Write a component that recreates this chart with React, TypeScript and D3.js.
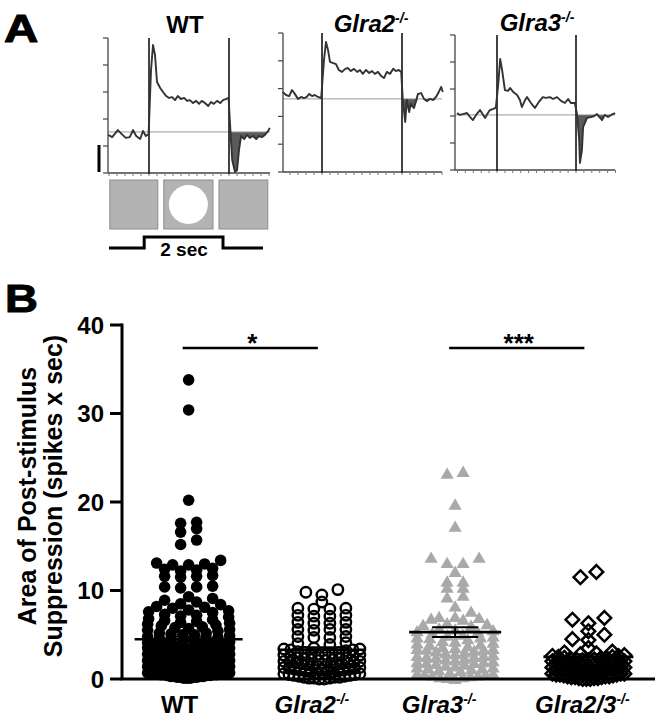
import React from "react";
import * as d3 from "d3";

// ---------------- Panel B data ----------------
const GROUPS = ["WT", "Glra2", "Glra3", "Glra2/3"];
const GROUP_SUP = ["", "-/-", "-/-", "-/-"];
const GROUP_ITALIC = [false, true, true, true];
const GROUP_MARKER = ["dot", "circle", "triangle", "diamond"];

const WT_VALUES = [
  33.8, 30.4, 20.2, 17.7, 17.6, 17.0, 16.6, 15.7, 15.2,
  13.4, 13.1, 13.0, 12.9, 12.9, 12.5, 12.4, 12.3, 12.2, 11.7, 11.6, 11.6, 11.5, 10.5, 10.4, 10.4, 10.3,
  9.3, 9.1, 8.9, 8.7, 8.5, 8.4, 8.2, 8.1,
  8.0, 7.8, 7.7, 7.6, 7.5, 7.3, 7.2, 7.1,
  7.0, 6.8, 6.7, 6.6, 6.5, 6.4, 6.3, 6.2, 6.1,
  6.0, 5.9, 5.8, 5.7, 5.6, 5.5, 5.4, 5.2, 5.2, 5.1,
  5.0, 5.0, 4.9, 4.8, 4.7, 4.6, 4.5, 4.5, 4.4, 4.3, 4.2, 4.1,
  4.0, 4.0, 3.9, 3.8, 3.8, 3.7, 3.7, 3.6, 3.5, 3.5, 3.4, 3.4, 3.3, 3.2, 3.2, 3.1,
  3.0, 3.0, 2.9, 2.9, 2.8, 2.8, 2.7, 2.7, 2.7, 2.6, 2.6, 2.5, 2.5, 2.4, 2.4, 2.4, 2.3, 2.3, 2.2, 2.2, 2.1, 2.1,
  2.0, 2.0, 1.9, 1.9, 1.9, 1.8, 1.8, 1.8, 1.7, 1.7, 1.7, 1.6, 1.6, 1.6, 1.5, 1.5, 1.5, 1.4, 1.4, 1.4,
  1.3, 1.3, 1.3, 1.2, 1.2, 1.2, 1.1, 1.1,
  1.0, 1.0, 0.9, 0.9, 0.9, 0.9, 0.8, 0.8, 0.8, 0.7, 0.7, 0.7, 0.7, 0.6, 0.6, 0.6, 0.6,
  0.5, 0.5, 0.5, 0.5, 0.4, 0.4, 0.4, 0.3, 0.3, 0.3, 0.3, 0.2, 0.2, 0.2, 0.2, 0.1, 0.1, 0.1,
];

const GLRA2_VALUES = [
  10.1, 9.8, 9.5, 8.7,
  7.9, 8.0, 7.9, 8.0,
  7.1, 7.2, 7.1, 7.2,
  6.4, 6.3, 6.4, 6.3,
  5.6, 5.5, 5.6, 5.6,
  4.7, 4.8, 4.7, 4.8,
  4.1, 4.0, 3.9,
  3.2, 3.3, 3.3, 3.4, 3.4, 3.5, 3.1,
  2.6, 2.7, 2.8, 2.8, 2.9, 3.0, 2.5, 2.7, 2.9, 3.0,
  1.9, 2.0, 2.1, 2.2, 2.2, 2.3, 2.4, 1.8, 2.0, 2.1, 2.3, 2.4,
  1.1, 1.2, 1.3, 1.4, 1.5, 1.6, 1.7, 1.2, 1.4, 1.1, 1.3, 1.5, 1.6, 1.7, 1.8, 1.9,
  0.4, 0.5, 0.6, 0.7, 0.8, 0.9, 1.0, 0.6, 0.8, 0.4, 0.5, 0.7, 0.9, 1.0, 0.8,
  0.0, 0.1, 0.2, 0.3, 0.1, 0.2, 0.0, 0.1, 0.3, 0.2,
];

const GLRA3_VALUES = [
  23.4, 23.2, 19.7, 17.2, 13.7, 13.7, 13.1, 13.1, 12.1, 11.0, 11.0, 10.3, 10.3, 9.4, 9.2,
  8.2, 7.6,
  7.0, 7.0, 6.9, 6.8, 6.7,
  6.2, 6.1, 6.0, 6.3,
  5.5, 5.4, 5.6, 5.3, 5.7, 5.0, 5.2,
  4.8, 4.7, 4.6, 4.9, 4.7, 4.3, 4.5,
  4.0, 4.1, 3.9, 4.2, 3.8, 3.7, 3.6,
  3.3, 3.4, 3.2, 3.1, 3.5, 3.3, 3.0, 3.4,
  2.6, 2.5, 2.7, 2.4, 2.8, 2.6, 2.9, 2.5, 2.2, 2.3,
  1.9, 1.8, 2.0, 1.7, 2.1, 1.9, 1.5, 1.8, 1.6,
  1.2, 1.1, 1.3, 1.0, 1.4, 1.2, 0.9, 1.3,
  0.5, 0.4, 0.6, 0.3, 0.7, 0.5, 0.2, 0.6, 0.4,
  0.1, 0.0, 0.2,
];

const GLRA23_VALUES = [
  12.1, 11.5,
  6.9, 6.7, 6.3,
  5.4, 5.0,
  4.5, 4.4,
  3.5,
  3.0, 2.9, 3.1,
  2.4, 2.5, 2.6, 2.7, 2.3, 2.8, 2.5, 2.2, 2.3, 2.4, 2.6,
  1.7, 1.8, 1.9, 2.0, 2.1, 1.6, 1.9, 2.2, 1.6, 1.7, 1.8, 2.0, 2.1, 1.9, 2.0,
  1.0, 1.1, 1.2, 1.3, 1.4, 1.5, 1.2, 1.3, 1.1, 1.0, 1.1, 1.2, 1.4, 1.5, 1.3, 1.5,
  0.4, 0.5, 0.6, 0.7, 0.8, 0.9, 0.5, 0.7, 0.6, 0.4, 0.5, 0.6, 0.8, 0.9, 0.7, 0.9,
  0.0, 0.1, 0.2, 0.3, 0.1, 0.2, 0.0, 0.3, 0.1, 0.2, 0.3, 0.0,
];

const GROUP_VALUES = [WT_VALUES, GLRA2_VALUES, GLRA3_VALUES, GLRA23_VALUES];
const MEANS = [4.5, 3.3, 5.3, 2.5];
const SEMS = [0.3, 0.3, 0.55, 0.3];
const Y_TICKS = [0, 10, 20, 30, 40];
const SIG_PAIRS = [
  [0, 1],
  [2, 3],
];
const SIG_LABELS = ["*", "***"];
const SIG_LEVEL = 37.4;

// ---------------- Panel A data ----------------
const TRACE_TITLES = ["WT", "Glra2", "Glra3"];
const TRACE_SUP = ["", "-/-", "-/-"];
const TRACE_ITALIC = [false, true, true];

const WT_TRACE: [number, number][] = [
  [-1.02, 1.41], [-0.92, 1.33], [-0.78, 1.59], [-0.68, 1.44], [-0.58, 1.3], [-0.48, 1.33],
  [-0.4, 1.59], [-0.32, 1.37], [-0.22, 1.26], [-0.15, 1.56], [-0.08, 1.37], [-0.01, 1.44],
  [0.05, 3.8], [0.1, 4.74], [0.15, 4.37], [0.2, 3.37], [0.28, 3.15], [0.35, 3.0], [0.43, 2.85],
  [0.5, 2.78], [0.58, 2.81], [0.65, 2.7], [0.72, 2.85], [0.8, 2.74], [0.88, 2.78], [0.95, 2.67],
  [1.02, 2.7], [1.1, 2.59], [1.18, 2.67], [1.25, 2.56], [1.32, 2.67], [1.4, 2.59], [1.48, 2.48],
  [1.55, 2.63], [1.62, 2.56], [1.7, 2.67], [1.78, 2.59], [1.85, 2.7], [1.92, 2.74], [1.99, 2.78],
  [2.02, 1.96], [2.08, 0.48], [2.15, 0.04], [2.2, 0.1], [2.25, 0.85], [2.3, 1.37], [2.38, 1.26],
  [2.45, 1.41], [2.52, 1.3], [2.6, 1.37], [2.68, 1.26], [2.75, 1.37], [2.82, 1.33], [2.9, 1.41],
  [2.98, 1.56], [3.02, 1.67],
];

const GLRA2_TRACE: [number, number][] = [
  [-0.98, 2.88], [-0.9, 2.77], [-0.82, 2.73], [-0.75, 2.95], [-0.68, 2.81], [-0.6, 2.63],
  [-0.52, 2.7], [-0.45, 2.66], [-0.38, 2.7], [-0.32, 2.81], [-0.25, 2.73], [-0.18, 2.77],
  [-0.1, 2.7], [-0.02, 2.66],
  [0.05, 4.03], [0.1, 4.68], [0.15, 4.39], [0.2, 3.96], [0.28, 3.92], [0.35, 3.88], [0.42, 3.67],
  [0.5, 3.6], [0.58, 3.71], [0.65, 3.74], [0.72, 3.63], [0.8, 3.71], [0.88, 3.6], [0.95, 3.67],
  [1.02, 3.53], [1.1, 3.67], [1.18, 3.56], [1.25, 3.63], [1.32, 3.53], [1.4, 3.6], [1.48, 3.45],
  [1.55, 3.38], [1.62, 3.6], [1.7, 3.53], [1.78, 3.71], [1.85, 3.63], [1.92, 3.67], [1.98, 3.6],
  [2.02, 2.59], [2.08, 1.8], [2.12, 2.59], [2.18, 2.16], [2.22, 2.45], [2.3, 2.3], [2.4, 2.81],
  [2.48, 2.84], [2.55, 2.63], [2.62, 2.55], [2.7, 2.63], [2.78, 2.59], [2.85, 2.7], [2.92, 2.88],
  [2.98, 3.06], [3.02, 2.88],
];

const GLRA3_TRACE: [number, number][] = [
  [-1.01, 2.11], [-0.94, 2.04], [-0.86, 2.07], [-0.76, 2.11], [-0.68, 1.96], [-0.61, 1.85],
  [-0.53, 2.04], [-0.43, 2.22], [-0.35, 2.04], [-0.3, 1.93], [-0.23, 2.11], [-0.18, 2.22],
  [-0.1, 2.26], [-0.03, 2.3],
  [0.03, 3.15], [0.08, 4.11], [0.13, 3.7], [0.2, 2.96], [0.28, 2.93], [0.33, 3.04], [0.41, 2.89],
  [0.51, 2.78], [0.58, 2.59], [0.63, 2.33], [0.71, 2.59], [0.76, 2.7], [0.86, 2.48], [0.96, 2.3],
  [1.06, 2.52], [1.16, 2.7], [1.24, 2.67], [1.34, 2.7], [1.42, 2.63], [1.52, 2.7], [1.62, 2.56],
  [1.72, 2.48], [1.8, 2.63], [1.87, 2.48], [1.97, 2.48],
  [2.03, 2.04], [2.08, 1.11], [2.1, 0.26], [2.15, 0.74], [2.18, 1.59], [2.28, 1.93], [2.38, 1.96],
  [2.46, 2.0], [2.53, 2.07], [2.61, 1.93], [2.66, 1.85], [2.73, 2.04], [2.81, 1.96], [2.89, 2.04],
  [2.99, 2.11],
];

const TRACES = [WT_TRACE, GLRA2_TRACE, GLRA3_TRACE];
const TRACE_BASELINES = [1.52, 2.63, 2.04];
const TRACE_Y_TICKS = [0, 1, 2, 3, 4, 5];
const STIM_TIMES = [0, 2];
const STIM_STEP: [number, number][] = [
  [-1.0, 0],
  [-0.12, 1],
  [1.85, 0],
  [2.85, 0],
];

// ---------------- layout constants ----------------
const FONT = "'Liberation Sans', Arial, Helvetica, sans-serif";
const PANELS = [
  { left: 108, right: 270, top: 38, bottom: 173, s0: 149, s2: 229, titleX: 185, titleY: 33 },
  { left: 283, right: 442, top: 33, bottom: 172, s0: 322, s2: 402, titleX: 371, titleY: 32 },
  { left: 455, right: 615, top: 35, bottom: 170, s0: 497, s2: 576, titleX: 537, titleY: 31 },
];
const MAX_HALF = [41, 38, 38, 36];
const MEAN_HALF = [54, 44, 46, 45];
const LABEL_DX = [-9, -10, -16, -6];

type Pt = { x: number; y: number };

function swarm(values: number[], center: number, ys: (v: number) => number, maxHalf: number, step: number, rowH: number): Pt[] {
  const sorted = [...values].sort((a, b) => a - b);
  const rows: number[][] = [];
  let cur: number[] = [];
  let start = 0;
  for (const v of sorted) {
    const py = ys(v);
    if (cur.length && start - py > rowH) {
      rows.push(cur);
      cur = [];
    }
    if (!cur.length) start = py;
    cur.push(v);
  }
  if (cur.length) rows.push(cur);
  const pts: Pt[] = [];
  for (const row of rows) {
    const n = row.length;
    const s = n > 1 ? Math.min(step, (2 * maxHalf) / (n - 1)) : 0;
    const slots = d3.range(n).map((i) => (i - (n - 1) / 2) * s);
    const order = d3
      .range(n)
      .sort((a, b) => Math.abs(slots[a]) - Math.abs(slots[b]) || slots[a] - slots[b]);
    row.forEach((v, k) => pts.push({ x: center + slots[order[k]], y: ys(v) }));
  }
  return pts;
}

function Marker({ type, x, y }: { type: string; x: number; y: number }) {
  if (type === "dot") return <circle cx={x} cy={y} r={5.8} fill="#000" />;
  if (type === "circle")
    return <circle cx={x} cy={y} r={5.2} fill="none" stroke="#000" strokeWidth={2.4} />;
  if (type === "triangle")
    return (
      <path
        d={`M${x},${y - 6.3}L${x + 6.6},${y + 5}L${x - 6.6},${y + 5}Z`}
        fill="#a9a9a9"
      />
    );
  return (
    <path
      d={`M${x},${y - 6.8}L${x + 6.8},${y}L${x},${y + 6.8}L${x - 6.8},${y}Z`}
      fill="none"
      stroke="#000"
      strokeWidth={2.5}
      strokeLinejoin="miter"
    />
  );
}

function Label({ x, y, text, sup, italic, size, supSize }: any) {
  return (
    <text
      x={x}
      y={y}
      textAnchor="middle"
      fontFamily={FONT}
      fontWeight="bold"
      fontStyle={italic ? "italic" : "normal"}
      fontSize={size}
      fill="#000"
    >
      {text}
      {sup ? (
        <tspan fontSize={supSize} dy={-size * 0.38}>
          {sup}
        </tspan>
      ) : null}
    </text>
  );
}

export default function App() {
  const y = d3.scaleLinear().domain([0, 40]).range([679, 325]);
  const xb = d3.scaleBand<string>().domain(GROUPS).range([122, 655]);
  const cx = (i: number) => (xb(GROUPS[i]) as number) + xb.bandwidth() / 2;

  const swarms = GROUP_VALUES.map((vals, i) => swarm(vals, cx(i), y, MAX_HALF[i], 16, 6));

  return (
    <svg
      width={662}
      height={720}
      style={{ position: "absolute", left: 0, top: 0, background: "#fff" }}
    >
      <rect x={0} y={0} width={662} height={720} fill="#fff" />

      {/* Panel letters */}
      <text x={4} y={42} fontFamily={FONT} fontWeight="bold" fontSize={38} transform="translate(4,0) scale(1.25,1) translate(-4,0)" stroke="#000" strokeWidth={1}>
        A
      </text>
      <text x={5} y={312} fontFamily={FONT} fontWeight="bold" fontSize={38} transform="translate(5,0) scale(1.2,1) translate(-5,0)" stroke="#000" strokeWidth={1}>
        B
      </text>

      {/* ---------------- Panel A ---------------- */}
      {PANELS.map((p, i) => {
        const xs = d3.scaleLinear().domain([0, 2]).range([p.s0, p.s2]);
        const ys = d3.scaleLinear().domain([0, 5]).range([p.bottom, p.top]);
        const data = TRACES[i];
        const base = TRACE_BASELINES[i];
        const line = d3
          .line<[number, number]>()
          .x((d) => xs(d[0]))
          .y((d) => ys(d[1]));
        const post = data.filter((d) => d[0] >= 1.95);
        const area = d3
          .area<[number, number]>()
          .x((d) => xs(d[0]))
          .y0(ys(base))
          .y1((d) => ys(Math.min(d[1], base)));
        const minor = d3.range(-1, 3.02, 0.2).filter((t) => xs(t) >= p.left - 0.5 && xs(t) <= p.right + 0.5);
        return (
          <g key={i}>
            <Label
              x={p.titleX}
              y={p.titleY}
              text={TRACE_TITLES[i]}
              sup={TRACE_SUP[i]}
              italic={TRACE_ITALIC[i]}
              size={24}
              supSize={14}
            />
            <path d={area(post) || ""} fill="#5a5a5a" />
            <line x1={p.left} x2={p.right} y1={ys(base)} y2={ys(base)} stroke="#9a9a9a" strokeWidth={1} />
            <line x1={p.left} x2={p.left} y1={p.top} y2={p.bottom} stroke="#444" strokeWidth={1.3} />
            <line x1={p.left} x2={p.right} y1={p.bottom} y2={p.bottom} stroke="#444" strokeWidth={1.3} />
            {TRACE_Y_TICKS.map((t) => (
              <line key={t} x1={p.left - 5} x2={p.left} y1={ys(t)} y2={ys(t)} stroke="#444" strokeWidth={1.2} />
            ))}
            {minor.map((t, k) => (
              <line key={k} x1={xs(t)} x2={xs(t)} y1={p.bottom} y2={p.bottom + 3} stroke="#777" strokeWidth={1} />
            ))}
            {STIM_TIMES.map((t) => (
              <line key={t} x1={xs(t)} x2={xs(t)} y1={p.top} y2={p.bottom + 1} stroke="#222" strokeWidth={1.7} />
            ))}
            <path d={line(data) || ""} fill="none" stroke="#333" strokeWidth={1.9} strokeLinejoin="round" />
          </g>
        );
      })}

      {/* scale bar */}
      <line x1={99} x2={99} y1={145} y2={172} stroke="#000" strokeWidth={3} />

      {/* stimulus schematic (WT column) */}
      {(() => {
        const p = PANELS[0];
        const xs = d3.scaleLinear().domain([0, 2]).range([p.s0, p.s2]);
        const boxes = [
          [-0.98, 0.22],
          [0.37, 1.6],
          [1.75, 2.97],
        ];
        const stepY = d3.scaleLinear().domain([0, 1]).range([248, 237]);
        const step = d3
          .line<[number, number]>()
          .x((d) => xs(d[0]))
          .y((d) => stepY(d[1]))
          .curve(d3.curveStepAfter);
        return (
          <g>
            {boxes.map((b, k) => (
              <rect
                key={k}
                x={xs(b[0])}
                y={180}
                width={xs(b[1]) - xs(b[0])}
                height={49}
                fill="#b3b3b3"
                stroke="#8c8c8c"
                strokeWidth={1}
              />
            ))}
            <circle cx={(xs(boxes[1][0]) + xs(boxes[1][1])) / 2} cy={204.5} r={19.5} fill="#fff" />
            <path d={step(STIM_STEP) || ""} fill="none" stroke="#000" strokeWidth={3} />
            <text x={184} y={256} textAnchor="middle" fontFamily={FONT} fontWeight="bold" fontSize={19}>
              2 sec
            </text>
          </g>
        );
      })()}

      {/* ---------------- Panel B ---------------- */}
      <text transform="rotate(-90)" x={-496} y={36} textAnchor="middle" fontFamily={FONT} fontWeight="bold" fontSize={25}>
        Area of Post-stimulus
      </text>
      <text transform="rotate(-90)" x={-496} y={62} textAnchor="middle" fontFamily={FONT} fontWeight="bold" fontSize={25}>
        Suppression (spikes x sec)
      </text>

      {swarms.map((pts, i) => (
        <g key={i}>
          {pts.map((pt, k) => (
            <Marker key={k} type={GROUP_MARKER[i]} x={pt.x} y={pt.y} />
          ))}
        </g>
      ))}

      {GROUPS.map((g, i) => {
        const c = cx(i);
        const m = y(MEANS[i]);
        const hi = y(MEANS[i] + SEMS[i]);
        const lo = y(MEANS[i] - SEMS[i]);
        return (
          <g key={g} stroke="#000">
            <line x1={c - MEAN_HALF[i]} x2={c + MEAN_HALF[i]} y1={m} y2={m} strokeWidth={2.6} />
            <line x1={c - 23} x2={c + 23} y1={hi} y2={hi} strokeWidth={2} />
            <line x1={c - 23} x2={c + 23} y1={lo} y2={lo} strokeWidth={2} />
            <line x1={c} x2={c} y1={hi} y2={lo} strokeWidth={2} />
          </g>
        );
      })}

      <line x1={122} x2={122} y1={y(40) - 1.5} y2={y(0)} stroke="#000" strokeWidth={3} />
      <line x1={120.5} x2={655} y1={y(0)} y2={y(0)} stroke="#000" strokeWidth={3} />
      {Y_TICKS.map((t) => (
        <g key={t}>
          <line x1={110} x2={122} y1={y(t)} y2={y(t)} stroke="#000" strokeWidth={3} />
          <text x={104} y={y(t)} dy="0.36em" textAnchor="end" fontFamily={FONT} fontWeight="bold" fontSize={24}>
            {t}
          </text>
        </g>
      ))}

      {GROUPS.map((g, i) => (
        <Label
          key={g}
          x={cx(i) + LABEL_DX[i]}
          y={713}
          text={g}
          sup={GROUP_SUP[i]}
          italic={GROUP_ITALIC[i]}
          size={24}
          supSize={14}
        />
      ))}

      {SIG_PAIRS.map((pr, k) => {
        const x1 = cx(pr[0]) - 6;
        const x2 = cx(pr[1]) - 4;
        const yy = y(SIG_LEVEL);
        return (
          <g key={k}>
            <line x1={x1} x2={x2} y1={yy} y2={yy} stroke="#000" strokeWidth={2.5} />
            <text x={(x1 + x2) / 2 + 2} y={yy + 4} textAnchor="middle" fontFamily={FONT} fontWeight="bold" fontSize={26}>
              {SIG_LABELS[k]}
            </text>
          </g>
        );
      })}
    </svg>
  );
}
